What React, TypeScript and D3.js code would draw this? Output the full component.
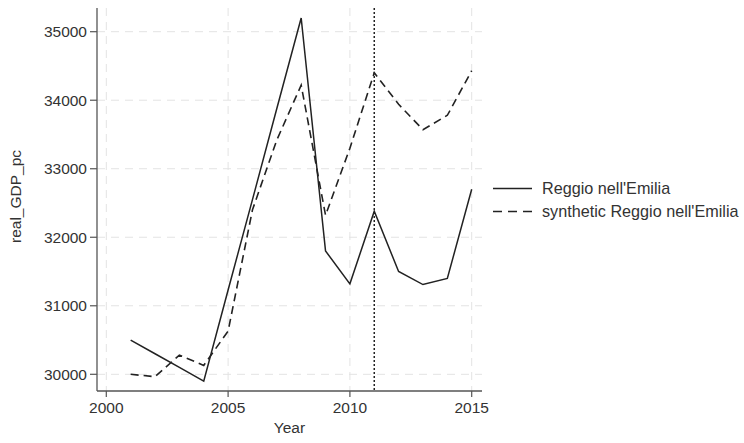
import React from "react";
import * as d3 from "d3";

const years = [2001, 2002, 2003, 2004, 2005, 2006, 2007, 2008, 2009, 2010, 2011, 2012, 2013, 2014, 2015];
const reggio = [30500, 30300, 30100, 29900, 31230, 32550, 33880, 35200, 31800, 31320, 32380, 31500, 31310, 31400, 32700];
const synthetic = [30000, 29965, 30280, 30130, 30630, 32400, 33420, 34220, 32320, 33300, 34400, 33940, 33570, 33780, 34430];
const xTicks = [2000, 2005, 2010, 2015];
const yTicks = [30000, 31000, 32000, 33000, 34000, 35000];
const treatYear = 2011;
const seriesNames = ["Reggio nell'Emilia", "synthetic Reggio nell'Emilia"];

const W = 744;
const H = 443;
const plot = { left: 97, right: 482, top: 8, bottom: 391 };
const font = "'Liberation Sans', Arial, Helvetica, sans-serif";

export default function App() {
  const x = d3.scaleLinear().domain([2000, 2015]).range([106.3, 471.7]);
  const y = d3.scaleLinear().domain([30000, 35000]).range([374.3, 31.7]);

  const line = d3
    .line<number>()
    .x((_, i) => x(years[i]))
    .y((d) => y(d));

  const gridColor = "#e3e3e3";
  const axisColor = "#555";
  const textColor = "#333";

  return (
    <svg width={W} height={H} style={{ position: "absolute", left: 0, top: 0, background: "#fff" }}>
      {/* grid */}
      {yTicks.map((t) => (
        <line key={"gy" + t} x1={plot.left} x2={plot.right} y1={y(t)} y2={y(t)} stroke={gridColor} strokeWidth={1} strokeDasharray="8,6" />
      ))}
      {xTicks.map((t) => (
        <line key={"gx" + t} x1={x(t)} x2={x(t)} y1={plot.top} y2={plot.bottom} stroke={gridColor} strokeWidth={1} strokeDasharray="8,6" />
      ))}

      {/* series */}
      <path d={line(synthetic) || ""} fill="none" stroke="#222" strokeWidth={1.6} strokeDasharray="8,5" />
      <path d={line(reggio) || ""} fill="none" stroke="#222" strokeWidth={1.5} />

      {/* treatment line */}
      <line x1={x(treatYear)} x2={x(treatYear)} y1={plot.top} y2={plot.bottom} stroke="#222" strokeWidth={1.5} strokeDasharray="2,2" />

      {/* axes */}
      <line x1={plot.left} x2={plot.left} y1={plot.top} y2={plot.bottom} stroke={axisColor} strokeWidth={1.3} />
      <line x1={plot.left} x2={plot.right} y1={plot.bottom} y2={plot.bottom} stroke={axisColor} strokeWidth={1.3} />
      {yTicks.map((t) => (
        <g key={"ty" + t}>
          <line x1={plot.left - 7} x2={plot.left} y1={y(t)} y2={y(t)} stroke={axisColor} strokeWidth={1.2} />
          <text x={plot.left - 10} y={y(t)} dy="0.36em" textAnchor="end" fontFamily={font} fontSize={15.5} fill={textColor}>
            {t}
          </text>
        </g>
      ))}
      {xTicks.map((t) => (
        <g key={"tx" + t}>
          <line x1={x(t)} x2={x(t)} y1={plot.bottom} y2={plot.bottom + 6} stroke={axisColor} strokeWidth={1.2} />
          <text x={x(t)} y={413} textAnchor="middle" fontFamily={font} fontSize={15.5} fill={textColor}>
            {t}
          </text>
        </g>
      ))}

      {/* axis titles */}
      <text x={(plot.left + plot.right) / 2} y={433} textAnchor="middle" fontFamily={font} fontSize={15.5} fill={textColor}>
        Year
      </text>
      <text
        transform={`translate(21, ${(plot.top + plot.bottom) / 2 - 3}) rotate(-90)`}
        textAnchor="middle"
        fontFamily={font}
        fontSize={15.5}
        fill={textColor}
      >
        real_GDP_pc
      </text>

      {/* legend */}
      {seriesNames.map((name, i) => (
        <g key={name} transform={`translate(493, ${188.5 + i * 23})`}>
          <line x1={0} x2={39} y1={0} y2={0} stroke="#222" strokeWidth={1.5} strokeDasharray={i === 1 ? "9,6" : undefined} />
          <text x={49} y={0} dy="0.36em" fontFamily={font} fontSize={16.2} fill={textColor}>
            {name}
          </text>
        </g>
      ))}
    </svg>
  );
}
